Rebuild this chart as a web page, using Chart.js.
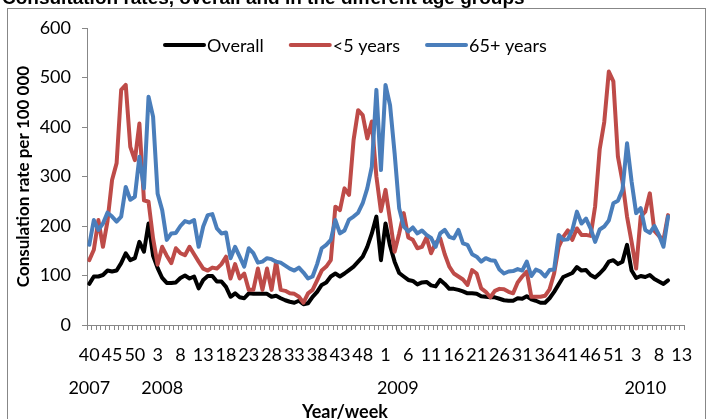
<!DOCTYPE html>
<html>
<head>
<meta charset="utf-8">
<script src="https://cdn.jsdelivr.net/npm/chart.js@4.4.0/dist/chart.umd.min.js"></script>
<style>
  html, body { margin: 0; padding: 0; background: #fff; }
  #wrap { width: 711px; height: 419px; position: relative; overflow: hidden; }
</style>
</head>
<body>
<div id="wrap"><canvas id="chart" width="711" height="419"></canvas></div>
<script>
// Weekly consultation rates per 100 000, 2007 week 40 to 2010 week 13 (axis)
const seasonWeeks = [[2007, 40, 52], [2008, 1, 52], [2009, 1, 53], [2010, 1, 13]];
const yearLabels = ['2007', '2008', '2009', '2010'];
const yearTicks = [0, 16, 67.7, 122];   // category position under which each year sits

const overall = [
  83, 98, 98, 101, 110, 108, 110, 125, 145, 131, 135, 168, 148, 205, 140, 115, 95, 85, 85, 86, 95, 100,
  94, 98, 74, 91, 99, 99, 88, 88, 77, 57, 64, 56, 54, 64, 63, 63, 63, 63, 57, 59, 54, 50,
  47, 45, 49, 42, 44, 57, 67, 81, 86, 98, 104, 98, 104, 111, 118, 128, 138, 158, 185, 219, 131,
  205, 160, 128, 105, 98, 91, 89, 82, 86, 87, 80, 78, 91, 83, 73, 73, 71, 68, 64, 64, 63, 58, 57,
  56, 56, 53, 50, 49, 49, 54, 53, 58, 52, 49, 45, 45, 54, 67, 82, 97, 101, 105, 117, 110,
  111, 101, 96, 104, 114, 128, 131, 123, 128, 162, 110, 95, 99, 97, 101, 93, 88, 83, 90
];
const under5 = [
  131, 152, 212, 158, 210, 293, 327, 475, 485, 360, 333, 407, 252, 249, 175, 122, 158, 140, 125, 155, 145, 141,
  158, 143, 128, 114, 110, 116, 114, 123, 138, 94, 123, 94, 104, 71, 71, 114, 71, 114, 71, 128, 71, 69,
  64, 63, 57, 45, 64, 71, 90, 110, 118, 131, 239, 232, 276, 263, 374, 434, 424, 377, 411, 300, 230,
  273, 212, 148, 185, 226, 177, 172, 155, 158, 177, 145, 166, 175, 143, 118, 104, 98, 92, 81, 111, 104, 74, 67,
  56, 69, 73, 72, 67, 64, 86, 98, 108, 57, 57, 57, 59, 72, 104, 158, 178, 191, 172, 195, 182,
  182, 180, 240, 355, 410, 512, 492, 340, 290, 219, 168, 114, 219, 229, 266, 190, 180, 172, 222
];
const over65 = [
  162, 212, 192, 205, 227, 219, 209, 219, 279, 253, 259, 340, 276, 461, 421, 265, 232, 172, 185, 186, 200, 210,
  207, 212, 158, 199, 222, 224, 195, 185, 187, 135, 158, 138, 118, 155, 145, 126, 128, 135, 133, 128, 126, 120,
  114, 110, 116, 106, 94, 98, 123, 155, 162, 172, 212, 185, 191, 213, 219, 227, 246, 276, 320, 475, 313,
  485, 444, 347, 236, 199, 189, 197, 185, 191, 182, 176, 158, 185, 192, 178, 175, 192, 165, 162, 143, 138, 128, 135,
  131, 130, 112, 104, 108, 109, 113, 110, 128, 99, 112, 108, 98, 111, 112, 182, 172, 173, 192, 229, 205,
  215, 195, 168, 193, 199, 211, 246, 251, 273, 367, 290, 226, 236, 192, 186, 200, 182, 158, 219
];

const chartTitle = 'Consultation rates, overall and in the different age groups';
const xTitle = 'Year/week';
const yTitle = 'Consulation rate per 100 000';

const FONT = 'Lato, "Open Sans", sans-serif';
const AXIS_GREY = '#878787';

// category list: one entry per week on the axis
const weeks = [];
seasonWeeks.forEach(([year, from, to]) => {
  for (let w = from; w <= to; w++) weeks.push(String(w));
});

/**
 * Frame, cut-off title, year row, x title and the legend inside the plot
 */
const decorations = {
  id: 'decorations',
  beforeDraw(chart) {
    const ctx = chart.ctx;
    ctx.save();
    ctx.fillStyle = '#fff';
    ctx.fillRect(0, 0, chart.width, chart.height);
    ctx.strokeStyle = AXIS_GREY;
    ctx.lineWidth = 1;
    ctx.strokeRect(7.5, 8.5, 698, 440);
    ctx.fillStyle = '#000';
    ctx.font = 'bold 19px "Liberation Sans", Arial, sans-serif';
    ctx.textBaseline = 'alphabetic';
    ctx.textAlign = 'left';
    ctx.fillText(chartTitle, 2, 4);
    ctx.restore();
  },
  afterDraw(chart) {
    const ctx = chart.ctx;
    const x = chart.scales.x;
    ctx.save();
    ctx.fillStyle = '#000';
    ctx.textBaseline = 'middle';

    // year row
    ctx.font = '18px ' + FONT;
    ctx.textAlign = 'center';
    yearLabels.forEach((t, i) => ctx.fillText(t, x.getPixelForValue(yearTicks[i]), 388));

    // x axis title
    ctx.font = 'bold 18px ' + FONT;
    ctx.fillText(xTitle, 345, 412);

    // legend
    ctx.font = '18px ' + FONT;
    ctx.textAlign = 'left';
    ctx.lineCap = 'round';
    let lx = 165;
    const ly = 45;
    chart.data.datasets.forEach(ds => {
      ctx.strokeStyle = ds.borderColor;
      ctx.lineWidth = 4;
      ctx.beginPath();
      ctx.moveTo(lx, ly);
      ctx.lineTo(lx + 39, ly);
      ctx.stroke();
      ctx.fillText(ds.label, lx + 42, ly + 1);
      lx += 42 + ctx.measureText(ds.label).width + 27;
    });
    ctx.restore();
  }
};

const lineStyle = {
  borderWidth: 4,
  pointRadius: 0,
  tension: 0,
  fill: false,
  borderCapStyle: 'round',
  borderJoinStyle: 'round'
};

new Chart(document.getElementById('chart').getContext('2d'), {
  type: 'line',
  data: {
    labels: weeks,
    datasets: [
      { label: 'Overall', data: overall, borderColor: '#000000', backgroundColor: '#000000', order: 3, ...lineStyle },
      { label: '<5 years', data: under5, borderColor: '#BE4B48', backgroundColor: '#BE4B48', order: 2, ...lineStyle },
      { label: '65+ years', data: over65, borderColor: '#4A7EBB', backgroundColor: '#4A7EBB', order: 1, ...lineStyle }
    ]
  },
  options: {
    responsive: false,
    animation: false,
    layout: { padding: { left: 13, right: 27, top: 28, bottom: 0 } },
    plugins: {
      legend: { display: false },
      tooltip: { enabled: false }
    },
    scales: {
      x: {
        type: 'category',
        offset: true,
        afterFit(scale) { scale.height = 94; },
        grid: {
          offset: true,
          drawOnChartArea: false,
          drawTicks: true,
          tickLength: 5,
          color: AXIS_GREY
        },
        border: { color: AXIS_GREY, width: 1 },
        ticks: {
          autoSkip: false,
          maxRotation: 0,
          minRotation: 0,
          padding: 14,
          color: '#000',
          font: { family: FONT, size: 18 },
          callback: function(value, index) {
            return index % 5 === 0 ? this.getLabelForValue(value) : '';
          }
        }
      },
      y: {
        min: 0,
        max: 600,
        afterFit(scale) { scale.width = 74; },
        grid: {
          drawOnChartArea: false,
          drawTicks: true,
          tickLength: 5,
          color: AXIS_GREY
        },
        border: { color: AXIS_GREY, width: 1 },
        ticks: {
          stepSize: 100,
          padding: 11,
          color: '#000',
          font: { family: FONT, size: 18 }
        },
        title: {
          display: true,
          text: yTitle,
          color: '#000',
          padding: 0,
          font: { family: FONT, size: 17, weight: 'bold' }
        }
      }
    }
  },
  plugins: [decorations]
});
</script>
</body>
</html>
